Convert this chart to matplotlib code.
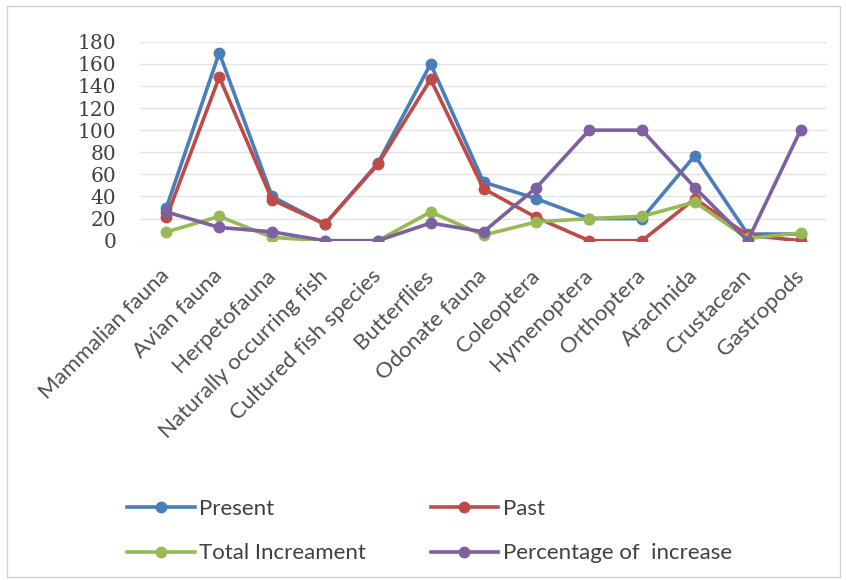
import matplotlib
matplotlib.use("Agg")
import matplotlib.pyplot as plt
from matplotlib.patches import Rectangle
from matplotlib.transforms import ScaledTranslation

categories = ["Mammalian fauna", "Avian fauna", "Herpetofauna", "Naturally occurring fish",
              "Cultured fish species", "Butterflies", "Odonate fauna", "Coleoptera",
              "Hymenoptera", "Orthoptera", "Arachnida", "Crustacean", "Gastropods"]
present = [30, 170, 40, 15, 70, 160, 53, 38, 20, 20, 77, 6, 6]
past = [21, 148, 37, 15, 69, 146, 47, 21, 0, 0, 38, 5, 0]
total_increment = [8, 22, 3, 0, 0, 26, 5, 17, 20, 22, 35, 2, 7]
percent_increase = [26, 12, 8, 0, 0, 16, 8, 48, 100, 100, 48, 0, 100]
y_ticks = [0, 20, 40, 60, 80, 100, 120, 140, 160, 180]

series = [
    ("Present", present, "#4A7EBB"),
    ("Past", past, "#BE4B48"),
    ("Total Increament", total_increment, "#98B954"),
    ("Percentage of  increase", percent_increase, "#7D60A0"),
]

W, H = 846, 580
fig = plt.figure(figsize=(W / 100, H / 100), dpi=100)
fig.patches.append(Rectangle((0.008, 0.005), 0.985, 0.985, transform=fig.transFigure,
                             fill=False, edgecolor="#D0D0D0", linewidth=1.0))

ax = fig.add_axes([140 / W, 1 - 240.7 / H, 687 / W, 199 / H])
x = [i + 0.5 for i in range(len(categories))]

lines = {}
for name, vals, color in series:
    h, = ax.plot(x, vals, color=color, linewidth=2.6, marker="o", markersize=7.5,
                 markerfacecolor=color, markeredgecolor=color, label=name, zorder=3)
    lines[name] = h

ax.set_xlim(0, len(categories))
ax.set_ylim(0, 180)
ax.set_yticks(y_ticks)
ax.set_yticklabels([str(v) for v in y_ticks], family=["DejaVu Serif"],
                   fontsize=14.5, color="#404040")
ax.yaxis.grid(True, color="#E3E3E3", linewidth=1.0)
ax.set_axisbelow(True)
for s in ax.spines.values():
    s.set_visible(False)
ax.tick_params(axis="both", length=0)
ax.tick_params(axis="y", pad=17)

ax.set_xticks(x)
ax.set_xticklabels(categories, rotation=45, ha="right", va="top", rotation_mode="anchor",
                   family=["Lato", "DejaVu Sans"], fontsize=16, color="#505050")
ax.tick_params(axis="x", pad=18)
shift = ScaledTranslation(-7 / 100, 0, fig.dpi_scale_trans)
for lab in ax.get_xticklabels():
    lab.set_transform(lab.get_transform() + shift)

# legend filled column by column: row 1 = Present, Past; row 2 = Total, Percentage
order = ["Present", "Total Increament", "Past", "Percentage of  increase"]
leg = fig.legend(handles=[lines[k] for k in order], loc="upper left",
                 bbox_to_anchor=(127 / W, 1 - 499 / H),
                 ncol=2, frameon=False, handlelength=3.05, handletextpad=0.2,
                 columnspacing=2.9, labelspacing=1.1, borderpad=0, borderaxespad=0,
                 prop={"family": ["Lato", "DejaVu Sans"], "size": 16})
for t in leg.get_texts():
    t.set_color("#404040")

fig.savefig("out.png", dpi=100)
